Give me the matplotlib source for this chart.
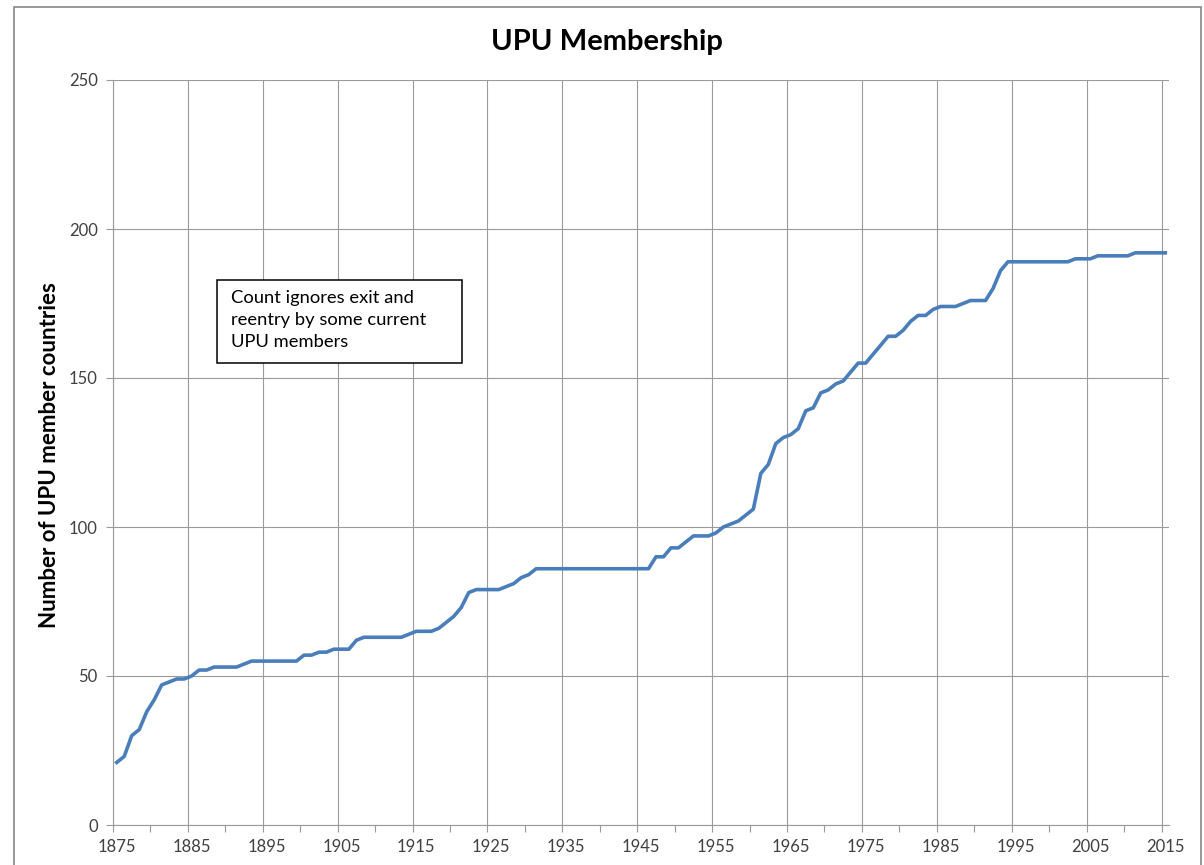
import numpy as np
import matplotlib
matplotlib.use("Agg")
import matplotlib.pyplot as plt
from matplotlib.patches import Rectangle

# UPU member countries by year (category axis, one point per year)
years = list(range(1875, 2016))
members = [
    21, 23, 30, 32, 38, 42, 47, 48, 49, 49,            # 1875-1884
    50, 52, 52, 53, 53, 53, 53, 54, 55, 55,            # 1885-1894
    55, 55, 55, 55, 55, 57, 57, 58, 58, 59,            # 1895-1904
    59, 59, 62, 63, 63, 63, 63, 63, 63, 64,            # 1905-1914
    65, 65, 65, 66, 68, 70, 73, 78, 79, 79,            # 1915-1924
    79, 79, 80, 81, 83, 84, 86, 86, 86, 86,            # 1925-1934
    86, 86, 86, 86, 86, 86, 86, 86, 86, 86,            # 1935-1944
    86, 86, 90, 90, 93, 93, 95, 97, 97, 97,            # 1945-1954
    98, 100, 101, 102, 104, 106, 118, 121, 128, 130,   # 1955-1964
    131, 133, 139, 140, 145, 146, 148, 149, 152, 155,  # 1965-1974
    155, 158, 161, 164, 164, 166, 169, 171, 171, 173,  # 1975-1984
    174, 174, 174, 175, 176, 176, 176, 180, 186, 189,  # 1985-1994
    189, 189, 189, 189, 189, 189, 189, 189, 190, 190,  # 1995-2004
    190, 191, 191, 191, 191, 191, 192, 192, 192, 192,  # 2005-2014
    192,                                               # 2015
]
label_years = list(range(1875, 2016, 10))
y_ticks = [0, 50, 100, 150, 200, 250]

title = "UPU Membership"
y_label = "Number of UPU member countries"
note = "Count ignores exit and\nreentry by some current\nUPU members"

plt.rcParams['font.family'] = ['Lato', 'DejaVu Sans']

grid_col = "#9a9a9a"
text_col = "#404040"

fig = plt.figure(figsize=(12.04, 8.65), dpi=100)
ax = fig.add_axes([113 / 1204, 40 / 865, 1056 / 1204, 745 / 865])

ax.plot(years, members, color="#4a7ebb", linewidth=2.6, solid_joinstyle="round")

# category axis: points sit in the middle of each year slot
ax.set_xlim(years[0] - 0.5, years[-1] + 0.5)
ax.set_ylim(0, 250)

# vertical gridlines at slot boundaries every 10 years
ax.vlines(np.arange(years[0] - 0.5, years[-1], 10), 0, 250, color=grid_col, linewidth=0.8, zorder=0)
ax.set_yticks(y_ticks)
ax.yaxis.grid(True, color=grid_col, linewidth=0.8)
ax.set_axisbelow(True)

ax.set_xticks(label_years)
ax.set_xticks(np.arange(years[0] - 0.5, years[-1] + 1, 5), minor=True)
ax.tick_params(axis="x", which="major", length=0, pad=10, labelsize=12, labelcolor=text_col)
ax.tick_params(axis="x", which="minor", length=5, color=grid_col, width=0.8)
ax.tick_params(axis="y", length=5, color=grid_col, width=0.8, pad=6, labelsize=12, labelcolor=text_col)

for side in ["top", "right"]:
    ax.spines[side].set_visible(False)
for side in ["left", "bottom"]:
    ax.spines[side].set_color(grid_col)
    ax.spines[side].set_linewidth(0.8)

fig.text(607 / 1204, 1 - 42 / 865, title, ha="center", va="center", fontsize=21, fontweight="bold")
fig.text(50 / 1204, 1 - 455 / 865, y_label, ha="center", va="center", rotation=90, fontsize=16, fontweight="bold")

# note box (fixed-size text box as in the original)
ax.add_patch(Rectangle((0.0985, 0.620), 0.232, 0.1115, transform=ax.transAxes,
                       facecolor="white", edgecolor="black", linewidth=1.1, zorder=3))
ax.text(0.1117, 0.718, note, transform=ax.transAxes, ha="left", va="top", fontsize=13.2,
        linespacing=1.45, zorder=4)

# outer chart border
fig.patches.append(Rectangle((14 / 1204, -0.05), (1201 - 14) / 1204, 1.05 - 7 / 865,
                             transform=fig.transFigure, fill=False, edgecolor="#868686", linewidth=1.2))

fig.savefig("out.png", dpi=100)
